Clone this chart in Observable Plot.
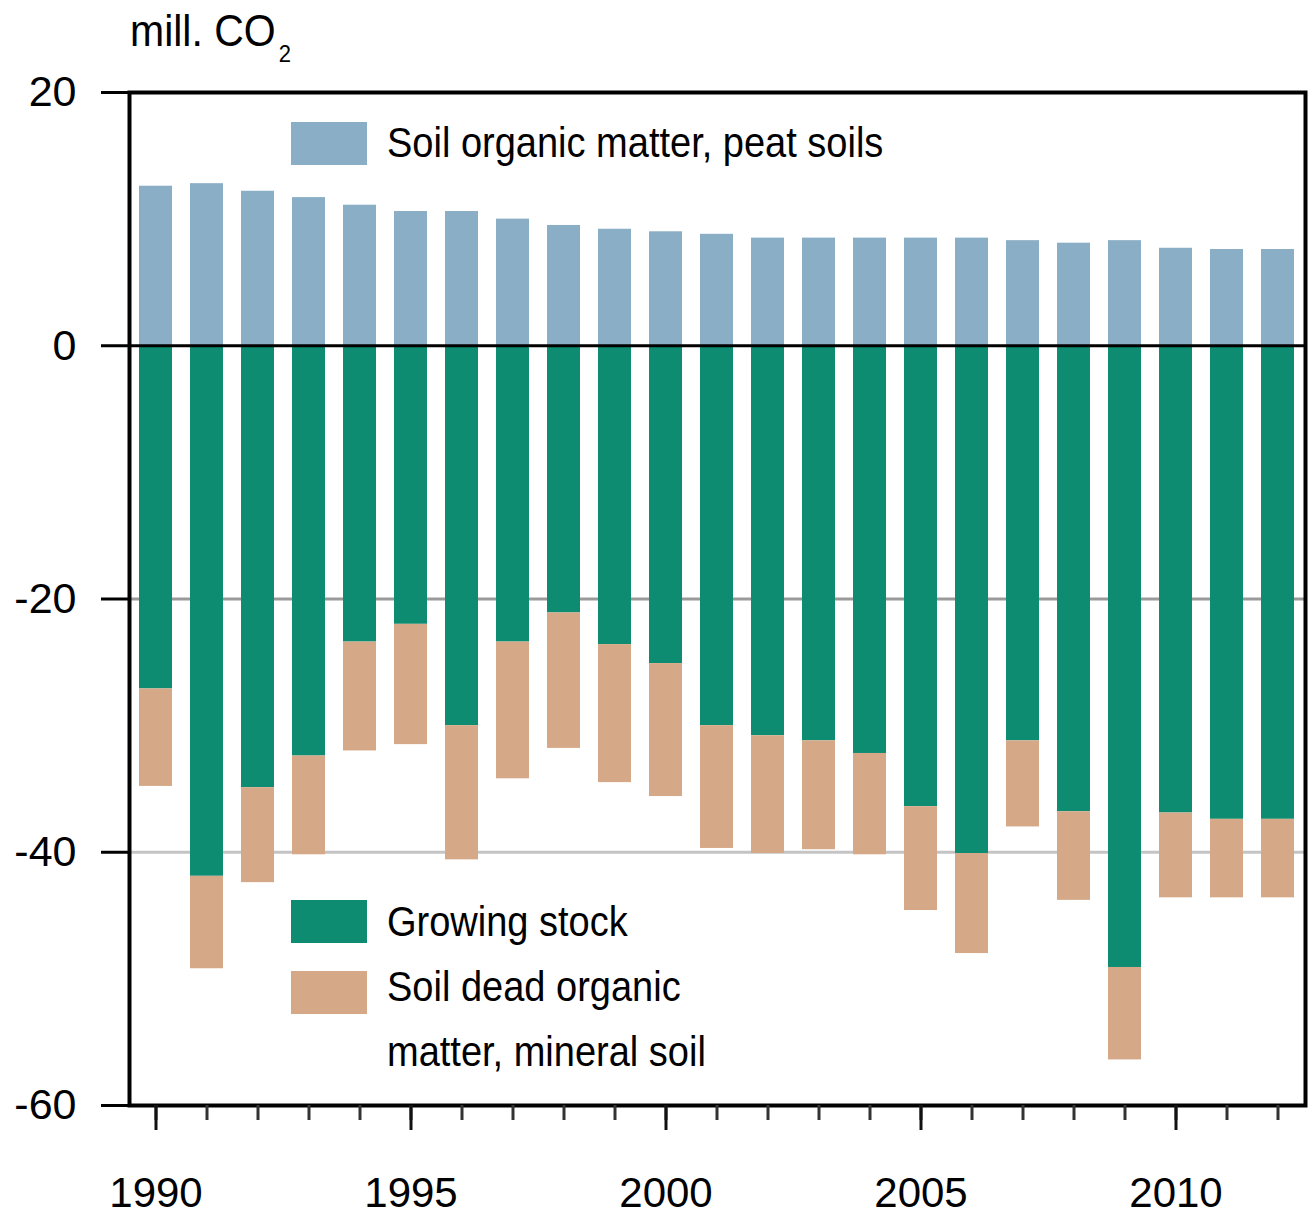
<!DOCTYPE html>
<html>
<head>
<meta charset="utf-8">
<script src="https://cdn.jsdelivr.net/npm/d3@7"></script>
<script src="https://cdn.jsdelivr.net/npm/@observablehq/plot@0.6"></script>
<style>
  html, body { margin: 0; padding: 0; background: #fff; }
  #wrap { position: relative; width: 1309px; height: 1216px; font-family: Arial, "Liberation Sans", sans-serif; color: #000; }
  #wrap svg { position: absolute; left: 0; top: 0; }
  .lbl { position: absolute; white-space: nowrap; line-height: 1; }
  .sw { position: absolute; width: 76px; height: 43px; }
  .lt { position: absolute; font-size: 38px; white-space: nowrap; transform: scaleY(1.12); transform-origin: 0 100%; line-height: 1; }
  svg text { font-family: Arial, "Liberation Sans", sans-serif; }
</style>
</head>
<body>
<div id="wrap"></div>
<script>
const years = [1990,1991,1992,1993,1994,1995,1996,1997,1998,1999,2000,2001,2002,2003,2004,2005,2006,2007,2008,2009,2010,2011,2012];
const peatSoils = [12.6,12.8,12.2,11.7,11.1,10.6,10.6,10.0,9.5,9.2,9.0,8.8,8.5,8.5,8.5,8.5,8.5,8.3,8.1,8.3,7.7,7.6,7.6];
const growingStock = [-27.1,-41.9,-34.9,-32.4,-23.4,-22.0,-30.0,-23.4,-21.1,-23.6,-25.1,-30.0,-30.8,-31.2,-32.2,-36.4,-40.1,-31.2,-36.8,-49.1,-36.9,-37.4,-37.4];
const soilDeadMineral = [-7.7,-7.3,-7.5,-7.8,-8.6,-9.5,-10.6,-10.8,-10.7,-10.9,-10.5,-9.7,-9.3,-8.6,-8.0,-8.2,-7.9,-6.8,-7.0,-7.3,-6.7,-6.2,-6.2];
const seriesNames = ["Soil organic matter, peat soils", "Growing stock", "Soil dead organic matter, mineral soil"];
const seriesColors = ["#8AAEC5", "#0E8C72", "#D5A987"];
const yTicks = [20, 0, -20, -40, -60];
const gridValues = [-20, -40];
const majorYears = [1990, 1995, 2000, 2005, 2010];

const table = [];
years.forEach((yr, i) => {
  table.push({year: yr, series: seriesNames[0], value: peatSoils[i]});
  table.push({year: yr, series: seriesNames[1], value: growingStock[i]});
  table.push({year: yr, series: seriesNames[2], value: soilDeadMineral[i]});
});

const chart = Plot.plot({
  width: 1309,
  height: 1216,
  marginTop: 92,
  marginBottom: 111,
  marginLeft: 129,
  marginRight: 4,
  style: {fontFamily: "Arial, 'Liberation Sans', sans-serif", background: "transparent"},
  x: {type: "band", domain: years, paddingInner: 0.35, paddingOuter: 0.175, axis: null},
  y: {domain: [-60, 20], axis: null},
  color: {domain: seriesNames, range: seriesColors},
  marks: [
    Plot.ruleY([gridValues[0]], {stroke: "#9a9a9a", strokeWidth: 3}),
    Plot.ruleY([gridValues[1]], {stroke: "#c4c4c4", strokeWidth: 3}),
    Plot.barY(table, Plot.stackY({x: "year", y: "value", fill: "series", order: seriesNames})),
    Plot.ruleY([0], {stroke: "#000", strokeWidth: 3}),
    Plot.frame({stroke: "#000", strokeWidth: 4}),
    Plot.axisY({ticks: yTicks, tickSize: 28, tickPadding: 25, tickFormat: d => String(d), fontSize: 43, strokeWidth: 3, stroke: "#000", label: null}),
    Plot.axisX({ticks: years, tickSize: 15, tickFormat: null, strokeWidth: 3, stroke: "#333", label: null}),
    Plot.axisX({ticks: majorYears, tickSize: 25, tickPadding: 47, tickFormat: d => String(d), fontSize: 42, strokeWidth: 3, stroke: "#111", label: null})
  ]
});

const wrap = document.getElementById("wrap");
wrap.appendChild(chart);

function addDiv(cls, styles, html) {
  const d = document.createElement("div");
  d.className = cls;
  Object.assign(d.style, styles);
  if (html != null) d.innerHTML = html;
  wrap.appendChild(d);
  return d;
}

// unit label
addDiv("lbl", {left: "130px", top: "13px", fontSize: "41px", transform: "scaleY(1.08)", transformOrigin: "0 100%"},
  'mill. CO<span style="font-size:22px;position:relative;top:14px;margin-left:3px">2</span>');

// legend
addDiv("sw", {left: "291px", top: "122px", background: seriesColors[0]});
addDiv("lt", {left: "387px", top: "126px"}, seriesNames[0]);
addDiv("sw", {left: "291px", top: "900px", background: seriesColors[1]});
addDiv("lt", {left: "387px", top: "905px"}, seriesNames[1]);
addDiv("sw", {left: "291px", top: "971px", background: seriesColors[2]});
addDiv("lt", {left: "387px", top: "970px"}, "Soil dead organic");
addDiv("lt", {left: "387px", top: "1035px"}, "matter, mineral soil");
</script>
</body>
</html>
